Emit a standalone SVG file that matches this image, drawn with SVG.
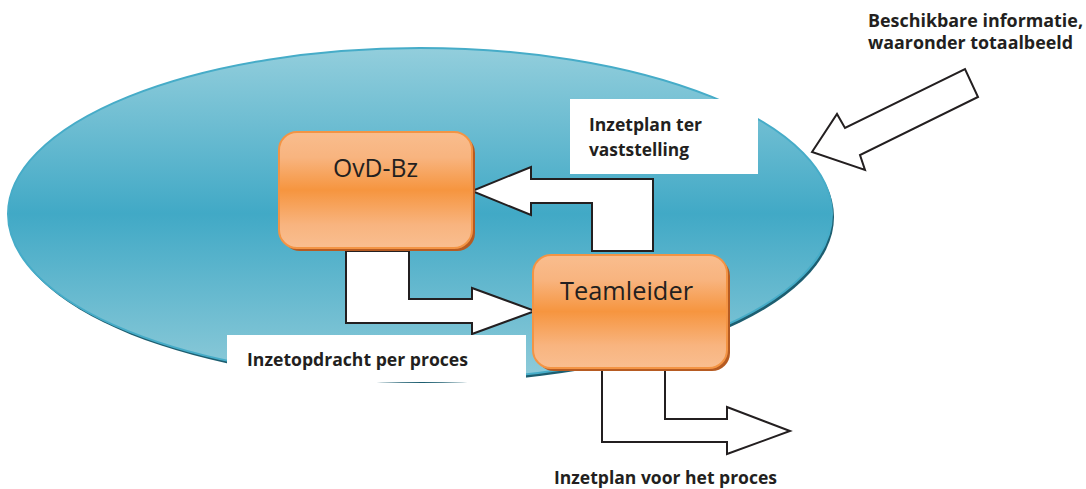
<svg xmlns="http://www.w3.org/2000/svg" width="1086" height="489" viewBox="0 0 1086 489">
  <defs>
    <linearGradient id="ovalFill" x1="0" y1="0" x2="0" y2="1">
      <stop offset="0" stop-color="#93cedc"/>
      <stop offset="0.5" stop-color="#41a9c6"/>
      <stop offset="1" stop-color="#8fcbd9"/>
    </linearGradient>
    <linearGradient id="boxFill" x1="0" y1="0" x2="0" y2="1">
      <stop offset="0" stop-color="#f9bd8e"/>
      <stop offset="0.22" stop-color="#f8b47f"/>
      <stop offset="0.5" stop-color="#f6953f"/>
      <stop offset="0.8" stop-color="#f8b47f"/>
      <stop offset="1" stop-color="#f9be90"/>
    </linearGradient>
    <style>
      .box { fill: url(#boxFill); stroke: #f39444; stroke-width: 2; }
      .box-shadow { fill: #b65b22; }
      .box-text { font-family: "Open Sans", "Liberation Sans", sans-serif; font-size: 26px; fill: #231f20; text-anchor: middle; }
      .flow { fill: #ffffff; stroke: #231f20; stroke-width: 2; stroke-linejoin: miter; }
      .label-bg { fill: #ffffff; }
      .label { font-family: "Open Sans", "Liberation Sans", sans-serif; font-weight: 700; font-size: 17px; fill: #231f20; }
    </style>
  </defs>

  <!-- organisation oval with a dark rim on the lower right -->
  <g id="oval">
    <ellipse cx="422" cy="217" rx="412" ry="166" fill="#1d5e70"/>
    <ellipse cx="420" cy="214" rx="412" ry="166" fill="url(#ovalFill)" stroke="#46acc8" stroke-width="2"/>
  </g>

  <!-- block arrows -->
  <g id="connectors">
    <path id="arrow-opdracht" class="flow" d="M346,251 L409,251 L409,299 L472,299 L472,288 L535,311 L472,334 L472,323 L346,323 Z"/>
    <path id="arrow-vaststelling" class="flow" d="M592,251 L653,251 L653,179 L531,179 L531,167 L472,191 L531,215 L531,203 L592,203 Z"/>
    <path id="arrow-proces" class="flow" d="M602,370 L665,370 L665,419 L727,419 L727,407 L790,431 L727,454 L727,442 L602,442 Z"/>
    <path id="arrow-informatie" class="flow" d="M812,152 L837,114 L845,128 L965,69 L978,97 L860,155 L865,170 Z"/>
  </g>

  <g id="node-ovd">
    <rect class="box-shadow" x="282" y="135" width="193" height="116" rx="18"/>
    <rect class="box" x="279" y="132" width="193" height="116" rx="18"/>
    <text class="box-text" x="375.5" y="177" textLength="85" lengthAdjust="spacingAndGlyphs">OvD-Bz</text>
  </g>

  <g id="node-teamleider">
    <rect class="box-shadow" x="536" y="258" width="194" height="113" rx="18"/>
    <rect class="box" x="533" y="255" width="194" height="113" rx="18"/>
    <text class="box-text" x="626.5" y="300" textLength="133" lengthAdjust="spacingAndGlyphs">Teamleider</text>
  </g>

  <g id="label-vaststelling">
    <rect class="label-bg" x="570" y="99" width="188" height="75"/>
    <text class="label" x="589" y="131" textLength="113" lengthAdjust="spacingAndGlyphs">Inzetplan ter</text>
    <text class="label" x="589" y="156" textLength="100" lengthAdjust="spacingAndGlyphs">vaststelling</text>
  </g>

  <g id="label-opdracht">
    <rect class="label-bg" x="227" y="335" width="299" height="47"/>
    <text class="label" x="247" y="366" textLength="221" lengthAdjust="spacingAndGlyphs">Inzetopdracht per proces</text>
  </g>

  <g id="label-proces">
    <text class="label" x="554" y="484" textLength="223" lengthAdjust="spacingAndGlyphs">Inzetplan voor het proces</text>
  </g>

  <g id="label-informatie">
    <text class="label" x="868" y="27" textLength="215" lengthAdjust="spacingAndGlyphs">Beschikbare informatie,</text>
    <text class="label" x="868" y="49" textLength="205" lengthAdjust="spacingAndGlyphs">waaronder totaalbeeld</text>
  </g>
</svg>
